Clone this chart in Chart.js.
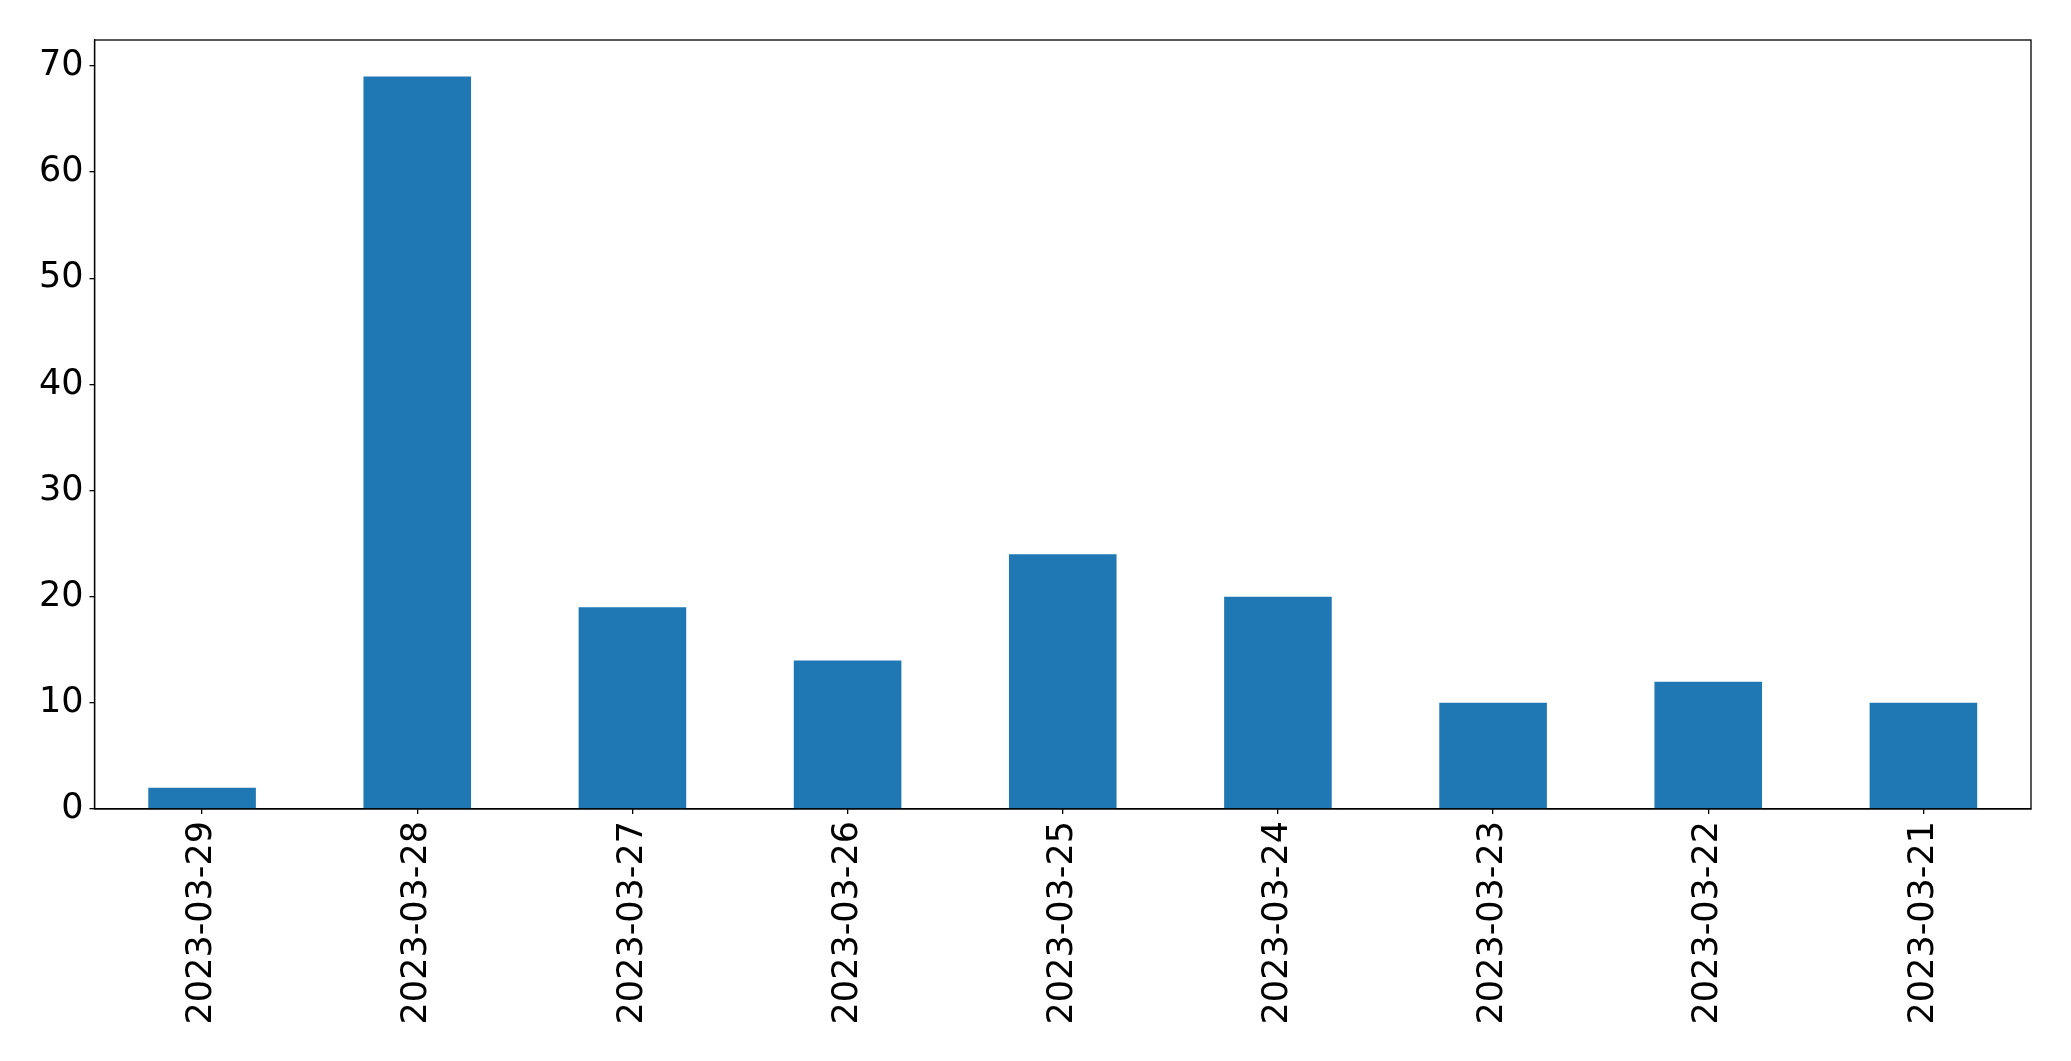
<!DOCTYPE html>
<html>
<head>
<meta charset="utf-8">
<script src="https://cdn.jsdelivr.net/npm/chart.js@4"></script>
<style>
  html, body { margin: 0; padding: 0; background: #fff; }
  #wrap { width: 2071px; height: 1061px; }
</style>
</head>
<body>
<div id="wrap"><canvas id="chart"></canvas></div>
<script>
// ── Data ─────────────────────────────────────────────────────────
const dates = ['2023-03-29', '2023-03-28', '2023-03-27', '2023-03-26', '2023-03-25',
               '2023-03-24', '2023-03-23', '2023-03-22', '2023-03-21'];
const counts = [2, 69, 19, 14, 24, 20, 10, 12, 10];
const yTicks = [0, 10, 20, 30, 40, 50, 60, 70];

// ── Box around the plot area (matplotlib style spines) ───────────
const frame = {
  id: 'frame',
  afterDraw(chart) {
    const { ctx, chartArea: a } = chart;
    ctx.save();
    ctx.strokeStyle = '#000';
    ctx.lineWidth = 1.3;
    ctx.strokeRect(a.left, a.top, a.right - a.left, a.bottom - a.top);
    ctx.restore();
  }
};

Chart.defaults.font.family = 'DejaVu Sans';
Chart.defaults.font.size = 35;
Chart.defaults.color = '#000';

new Chart(document.getElementById('chart'), {
  type: 'bar',
  data: {
    labels: dates,
    datasets: [{
      data: counts,
      backgroundColor: '#1f77b4',
      categoryPercentage: 1,
      barPercentage: 0.5
    }]
  },
  options: {
    responsive: true,
    maintainAspectRatio: false,
    animation: false,
    layout: { padding: { top: 40, right: 40, left: 0, bottom: 0 } },
    plugins: { legend: { display: false }, tooltip: { enabled: false } },
    scales: {
      x: {
        grid: { offset: false, drawOnChartArea: false, drawTicks: true, tickLength: 5, color: '#000', lineWidth: 1.3 },
        border: { display: true, color: '#000', width: 1.3 },
        ticks: { autoSkip: false, minRotation: 90, maxRotation: 90, padding: 7 },
        afterFit(axis) { axis.height = 252; }
      },
      y: {
        min: 0,
        max: 72.45,
        grid: { drawOnChartArea: false, drawTicks: true, tickLength: 5, color: '#000', lineWidth: 1.3 },
        border: { display: true, color: '#000', width: 1.3 },
        ticks: { stepSize: 10, padding: 6 },
        afterBuildTicks(axis) { axis.ticks = yTicks.map(v => ({ value: v })); },
        afterFit(axis) { axis.width = 94.5; }
      }
    }
  },
  plugins: [frame]
});
</script>
</body>
</html>
